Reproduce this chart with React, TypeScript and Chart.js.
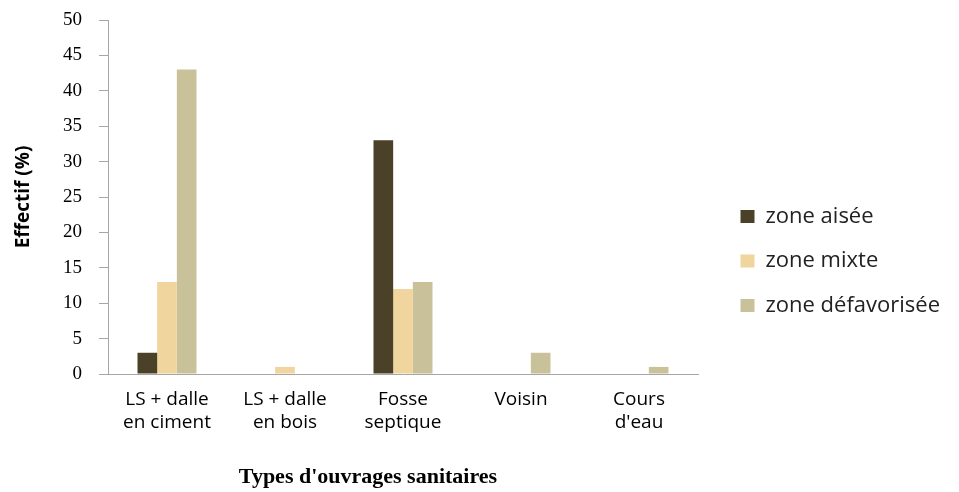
import React, { useEffect, useRef } from "react";
import { Chart, registerables } from "chart.js";

Chart.register(...registerables);

const categories: string[][] = [
  ["LS + dalle", "en ciment"],
  ["LS + dalle", "en bois"],
  ["Fosse", "septique"],
  ["Voisin"],
  ["Cours", "d'eau"],
];
const seriesNames = ["zone aisée", "zone mixte", "zone défavorisée"];
const zoneAisee = [3, 0, 33, 0, 0];
const zoneMixte = [13, 1, 12, 0, 0];
const zoneDefavorisee = [43, 0, 13, 3, 1];
const yMin = 0;
const yMax = 50;
const yStep = 5;
const xTitle = "Types d'ouvrages sanitaires";
const yTitle = "Effectif (%)";

const colors = ["#4A4128", "#F0D59E", "#C8C199"];
const axisColor = "#A6A6A6";

const layoutPlugin = {
  id: "layoutFix",
  afterInit(chart: any) {
    const lg = chart.legend;
    if (lg) {
      const f = lg.fit.bind(lg);
      lg.fit = function () {
        f();
        lg.width = 261;
      };
    }
  },
  afterLayout(chart: any) {
    const lg = chart.legend;
    if (!lg) return;
    const ca = chart.chartArea;
    lg.left = ca.right + 20;
    lg.top = 183;
  },
  afterDraw(chart: any) {
    const { ctx, chartArea } = chart;
    ctx.save();
    ctx.font = 'bold 22px "Liberation Serif"';
    ctx.fillStyle = "#000";
    ctx.textAlign = "center";
    ctx.textBaseline = "alphabetic";
    ctx.fillText(xTitle, (chartArea.left + chartArea.right) / 2 - 35, 483);
    ctx.restore();
  },
};

export default function App() {
  const ref = useRef<HTMLCanvasElement | null>(null);
  useEffect(() => {
    document.body.style.margin = "0";
    const canvas = ref.current!;
    const chart = new Chart(canvas, {
      type: "bar",
      data: {
        labels: categories,
        datasets: [
          { label: seriesNames[0], data: zoneAisee, backgroundColor: colors[0] },
          { label: seriesNames[1], data: zoneMixte, backgroundColor: colors[1] },
          { label: seriesNames[2], data: zoneDefavorisee, backgroundColor: colors[2] },
        ],
      },
      options: {
        animation: false,
        responsive: false,
        devicePixelRatio: 1,
        datasets: { bar: { categoryPercentage: 0.5, barPercentage: 1, borderWidth: 0 } },
        layout: { padding: { top: 20, left: 0, right: 0, bottom: 0 } },
        plugins: {
          tooltip: { enabled: false },
          legend: {
            position: "right",
            align: "start",
            labels: {
              boxWidth: 14,
              boxHeight: 13,
              padding: 22.5,
              color: "#222",
              font: { family: '"Open Sans"', size: 22 },
            },
          },
        },
        scales: {
          x: {
            grid: { display: false, drawTicks: false },
            border: { display: true, color: axisColor, width: 1 },
            ticks: {
              color: "#000",
              padding: 14,
              maxRotation: 0,
              autoSkip: false,
              font: { family: '"Open Sans"', size: 19, lineHeight: 1.2 },
            },
            afterFit: (scale: any) => {
              scale.height = 118;
            },
          },
          y: {
            min: yMin,
            max: yMax,
            grid: { drawOnChartArea: false, drawTicks: true, tickLength: 9, color: axisColor },
            border: { display: true, color: axisColor, width: 1 },
            ticks: {
              stepSize: yStep,
              color: "#000",
              padding: 17,
              font: { family: '"Liberation Serif"', size: 19 },
            },
            title: {
              display: true,
              text: yTitle,
              color: "#000",
              padding: { top: 12, bottom: 0 },
              font: { family: '"Open Sans"', size: 19, weight: "bold" },
            },
            afterFit: (scale: any) => {
              scale.width = 108;
              scale.paddingTop = 0;
              scale.paddingBottom = 0;
            },
          },
        },
      },
      plugins: [layoutPlugin],
    } as any);
    return () => chart.destroy();
  }, []);
  return (
    <div style={{ width: 959, height: 492 }}>
      <canvas ref={ref} width={959} height={492} />
    </div>
  );
}
